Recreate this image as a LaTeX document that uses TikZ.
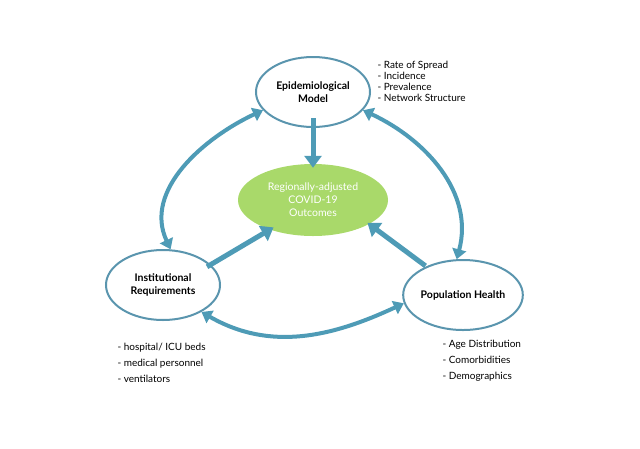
\documentclass[tikz,border=0pt]{standalone}
\usepackage{fontspec}
\setmainfont{Lato}
\usetikzlibrary{shapes.geometric,arrows.meta,positioning}
\definecolor{arrowc}{HTML}{4E9BB6}
\definecolor{ringc}{HTML}{5A95AE}
\definecolor{outc}{HTML}{A9D96A}

\begin{document}
\begin{tikzpicture}[
    x=1pt, y=-1pt,
    factor/.style={ellipse, draw=ringc, line width=2pt, fill=white, inner sep=0pt,
                   minimum width=114pt, minimum height=70pt, align=center,
                   font=\fontsize{10.5}{13}\selectfont\bfseries},
    outcome/.style={ellipse, draw=none, fill=outc, minimum width=150pt, inner sep=0pt,
                    minimum height=72pt, align=center, text=white,
                    font=\fontsize{10.5}{13}\selectfont},
    listing/.style={align=left, anchor=north west, font=\fontsize{10}{16}\selectfont},
    arrow/.style={line width=5pt, color=arrowc, -{Triangle[length=12pt,width=17pt]}},
    dblarrow/.style={line width=4pt, color=arrowc,
                     {Triangle[length=10pt,width=14pt]}-{Triangle[length=10pt,width=14pt]}}
]
\useasboundingbox (0,0) rectangle (640,448);

% Nodes
\node[factor] (epi) at (313,92) {Epidemiological\\Model};
\node[outcome] (outc) at (313,200) {Regionally-adjusted\\COVID-19\\Outcomes};
\node[factor] (inst) at (163,285) {Institutional\\Requirements};
\node[factor] (pop) at (463,295) {Population Health};

% Lists
\node[listing] (epilist) at (374,58) {- Rate of Spread\\[-5pt]- Incidence\\[-5pt]- Prevalence\\[-5pt]- Network Structure};
\node[listing] (instlist) at (114,340) {- hospital/ ICU beds\\- medical personnel\\- ventilators};
\node[listing] (poplist) at (439,337) {- Age Distribution\\- Comorbidities\\- Demographics};

% Straight arrows into outcome
\draw[arrow] ([yshift=10pt]epi.south) -- ([yshift=-4pt]outc.north);
\draw[arrow] ([xshift=-6pt]inst.20) -- ([xshift=-2pt,yshift=4pt]outc.220);
\draw[arrow] ([xshift=6pt,yshift=4pt]pop.150) -- ([xshift=4pt,yshift=4pt]outc.-28);

% Curved arrows between factors
\draw[dblarrow] (inst.78) to[out=115, in=205] (epi.200);
\draw[dblarrow] (epi.-20) to[out=-25, in=75] (pop.100);
\draw[dblarrow] (inst.-35) to[out=-30, in=205] (pop.188);
\end{tikzpicture}
\end{document}
